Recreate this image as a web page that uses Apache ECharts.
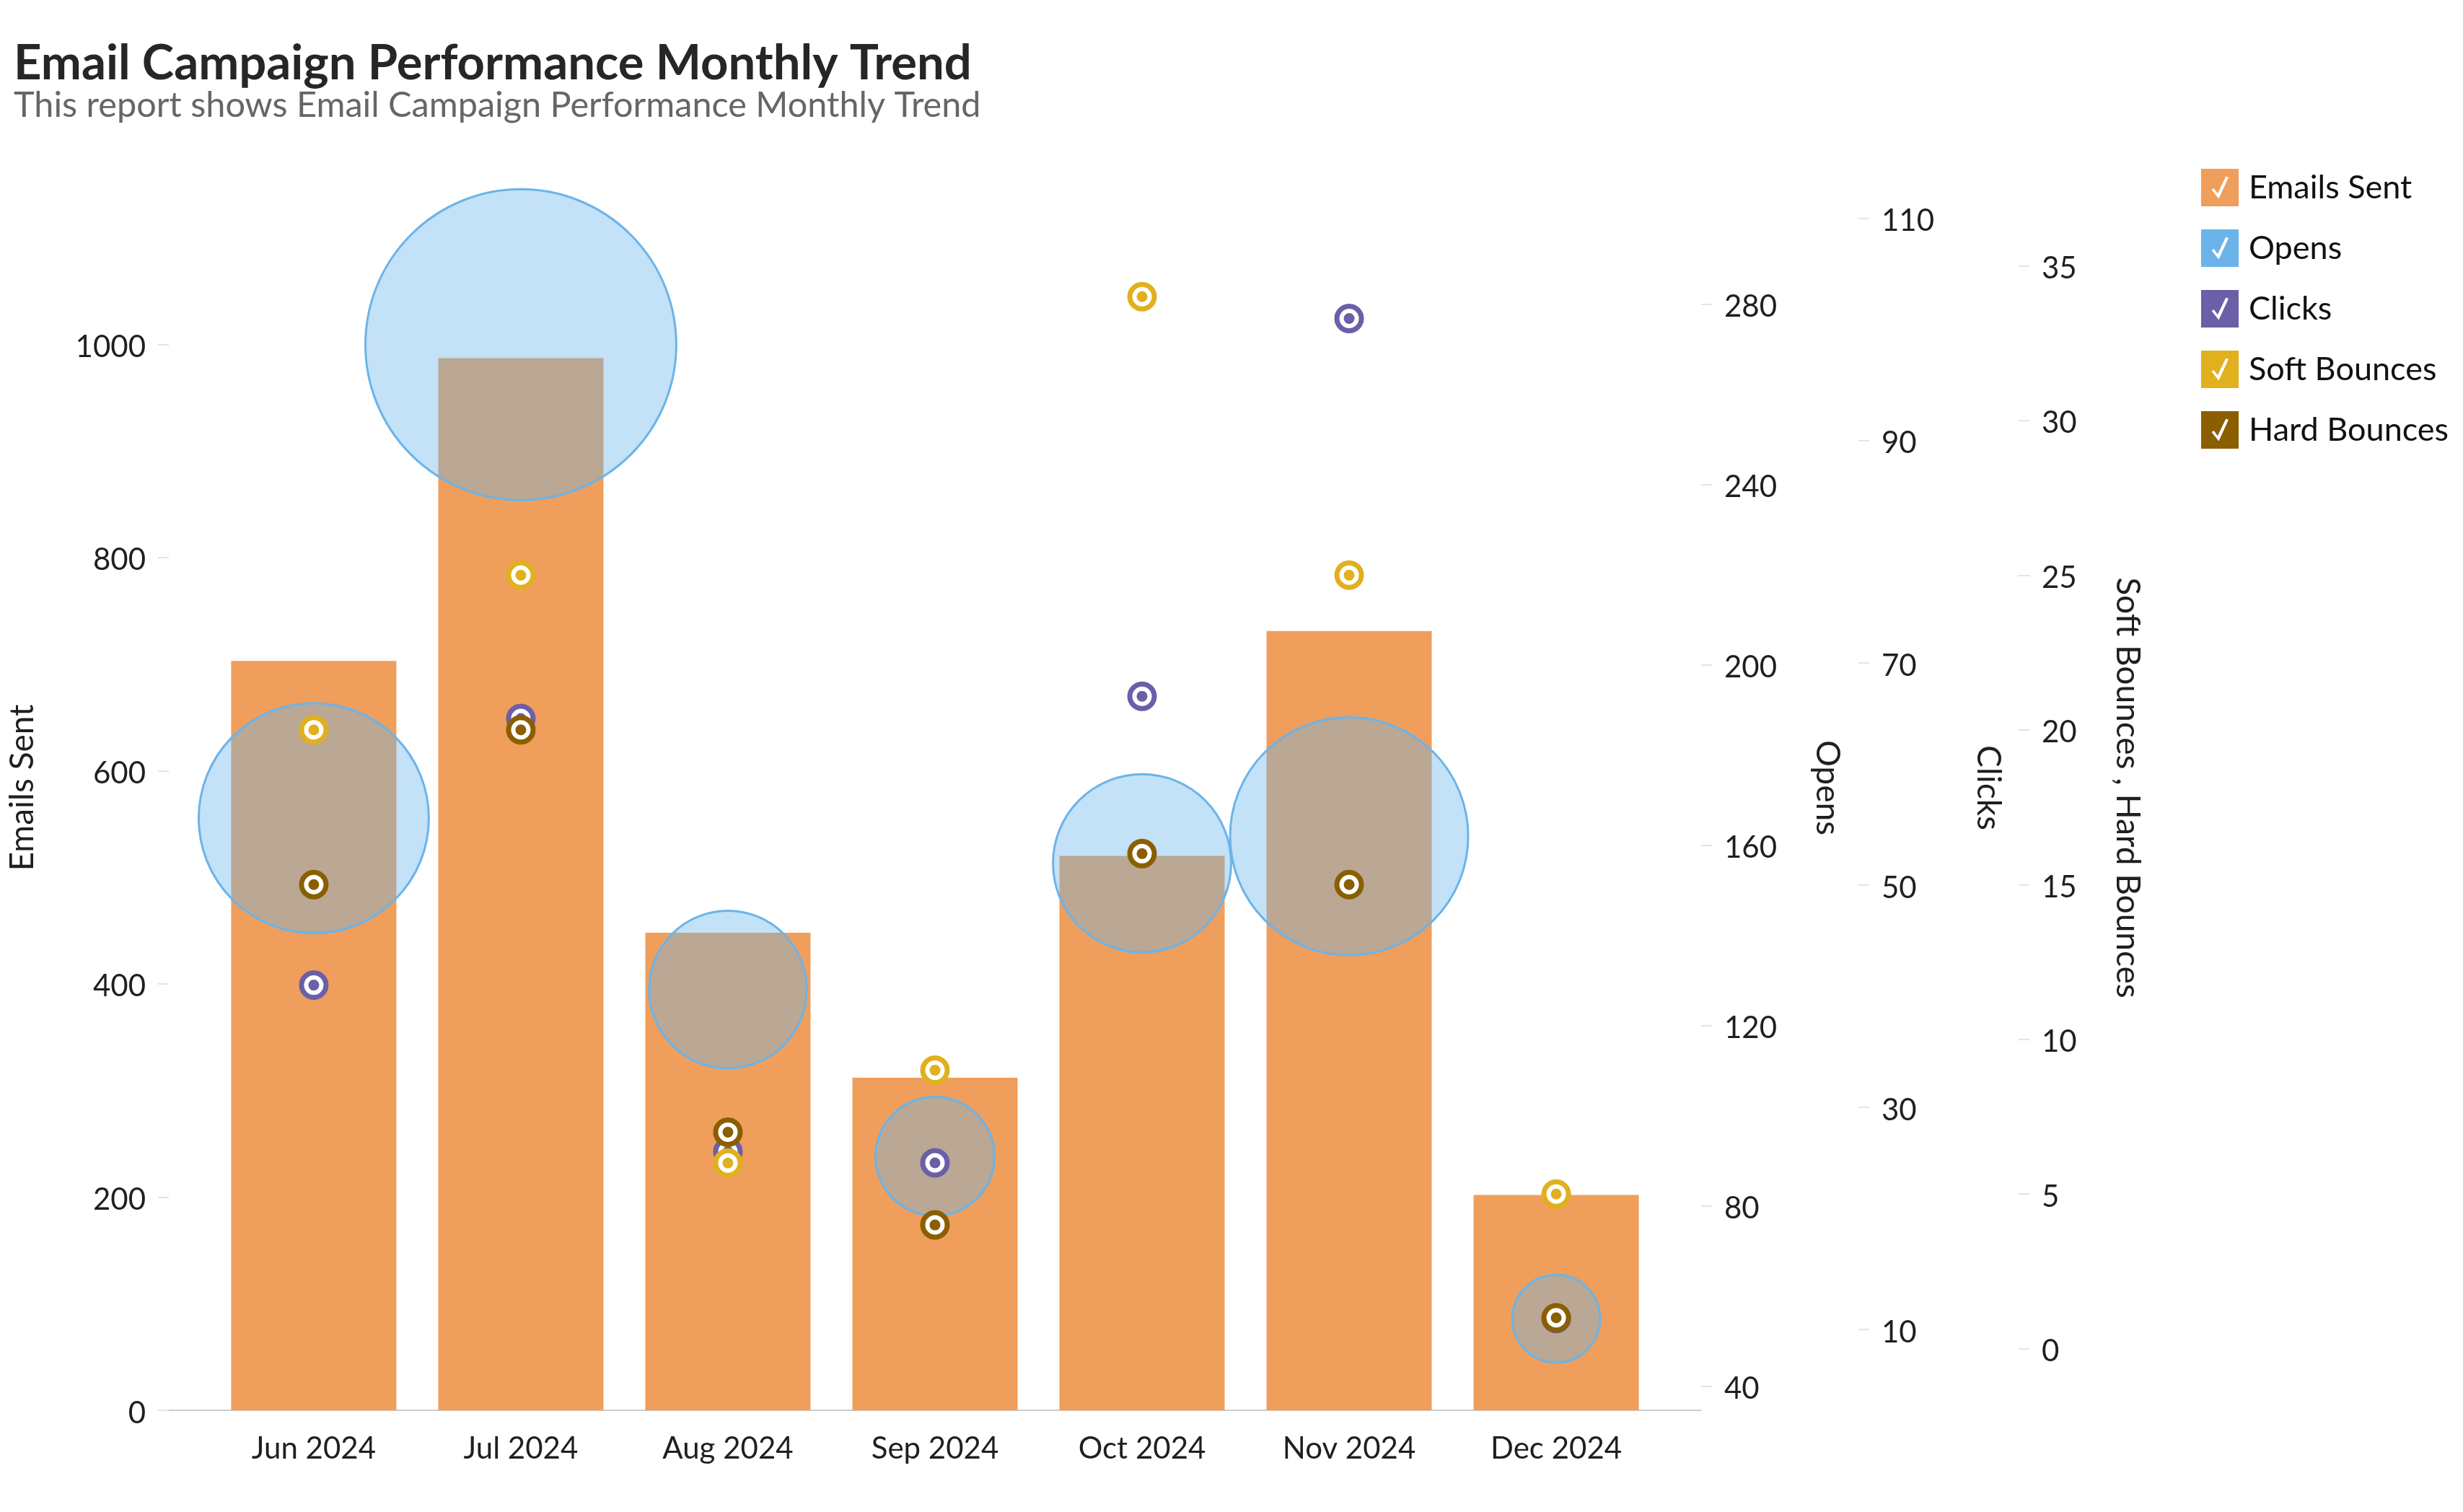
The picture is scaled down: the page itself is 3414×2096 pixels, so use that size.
<!DOCTYPE html>
<html>
<head>
<meta charset="utf-8">
<script src="https://cdn.jsdelivr.net/npm/echarts@6/dist/echarts.min.js"></script>
<style>
  html, body { margin: 0; padding: 0; background: #ffffff; }
  #chart { width: 3414px; height: 2096px; }
</style>
</head>
<body>
<div id="chart"></div>
<script>
// ---- data ----
const categories = ['Jun 2024', 'Jul 2024', 'Aug 2024', 'Sep 2024', 'Oct 2024', 'Nov 2024', 'Dec 2024'];
const emailsSent = [703, 987, 448, 312, 520, 731, 202];
const opens = [166, 271, 128, 91, 156, 162, 55];
const clicks = [41, 65, 26, 25, 67, 101, 11];
const softBounces = [20, 25, 6, 9, 34, 25, 5];
const hardBounces = [15, 20, 7, 4, 16, 15, 1];

const emailsTicks = [0, 200, 400, 600, 800, 1000];
const opensTicks = [40, 80, 120, 160, 200, 240, 280];
const clicksTicks = [10, 30, 50, 70, 90, 110];
const bounceTicks = [0, 5, 10, 15, 20, 25, 30, 35];

// ---- styles ----
const FONT = 'Lato';
const C_EMAILS = '#f09e5b';
const C_OPENS = '#6ab4ea';
const C_CLICKS = '#6b5fa8';
const C_SOFT = '#e0b01e';
const C_HARD = '#8b5e00';

const pairs = arr => arr.map((v, i) => [i, v]);

const CHECK_ICON = 'path://M0,0L100,0L100,100L0,100Z M28,56L47,80L73,23L66,20L44,66L34,52Z';

const labelStyle = { fontFamily: FONT, fontSize: 42, color: '#1f1f1f' };
const nameStyle = { fontFamily: FONT, fontSize: 46, color: '#1f1f1f' };
const tickStyle = { show: true, length: 15, lineStyle: { color: '#e4e4e4', width: 2 } };

function yAxis(opt) {
  return Object.assign({
    type: 'value',
    nameLocation: 'middle',
    nameTextStyle: nameStyle,
    axisLine: { show: false, onZero: false },
    splitLine: { show: false },
    axisTick: Object.assign({}, tickStyle, { customValues: opt.ticks }),
    axisLabel: Object.assign({}, labelStyle, {
      customValues: opt.ticks, margin: 32,
      formatter: v => String(v),
      verticalAlign: 'top',
      lineHeight: 8
    })
  }, opt.extra);
}

function markerSeries(name, values, color, axisIndex, z) {
  return [
    {
      name: name, type: 'scatter', xAxisIndex: 0, yAxisIndex: axisIndex,
      data: pairs(values), symbol: 'circle', symbolSize: 34, clip: false, z: z,
      itemStyle: { color: '#ffffff', borderColor: color, borderWidth: 7, opacity: 1 }
    },
    {
      name: name, type: 'scatter', xAxisIndex: 0, yAxisIndex: axisIndex,
      data: pairs(values), symbol: 'circle', symbolSize: 15, clip: false, z: z + 1,
      itemStyle: { color: color, opacity: 1 }
    }
  ];
}

const option = {
  animation: false,
  backgroundColor: '#ffffff',
  title: {
    text: 'Email Campaign Performance Monthly Trend',
    subtext: 'This report shows Email Campaign Performance Monthly Trend',
    left: 14, top: 50, itemGap: 0,
    textStyle: { fontFamily: FONT, fontSize: 67, fontWeight: 'bold', color: '#262626' },
    subtextStyle: { fontFamily: FONT, fontSize: 48.6, color: '#666666' }
  },
  legend: {
    orient: 'vertical',
    left: 3046, top: 229,
    itemWidth: 52, itemHeight: 52, itemGap: 32,
    icon: CHECK_ICON,
    textStyle: { fontFamily: FONT, fontSize: 45, color: '#111111', padding: [0, 0, 0, 9] },
    data: [
      { name: 'Emails Sent', itemStyle: { color: C_EMAILS, borderWidth: 0 } },
      { name: 'Opens', itemStyle: { color: C_OPENS, borderWidth: 0, opacity: 1 } },
      { name: 'Clicks', itemStyle: { color: C_CLICKS, borderWidth: 0 } },
      { name: 'Soft Bounces', itemStyle: { color: C_SOFT, borderWidth: 0 } },
      { name: 'Hard Bounces', itemStyle: { color: C_HARD, borderWidth: 0 } }
    ]
  },
  grid: { left: 234, right: 1056, top: 229, bottom: 141 },
  xAxis: {
    type: 'value', min: -0.7, max: 6.7,
    axisLine: { show: true, onZero: false, lineStyle: { color: '#cccccc', width: 2 } },
    axisTick: { show: false },
    splitLine: { show: false },
    axisLabel: Object.assign({}, labelStyle, {
      customValues: categories.map((c, i) => i),
      formatter: v => categories[Math.round(v)] || '',
      margin: 32
    })
  },
  yAxis: [
    yAxis({ ticks: emailsTicks, extra: { name: 'Emails Sent', position: 'left', min: 0, max: 1168, nameGap: 180 } }),
    yAxis({ ticks: opensTicks, extra: { name: 'Opens', position: 'right', offset: 0, min: 34.7, max: 310.8, nameGap: 152, nameRotate: -90 } }),
    yAxis({ ticks: clicksTicks, extra: { name: 'Clicks', position: 'right', offset: 218, min: 2.73, max: 114.8, nameGap: 157, nameRotate: -90 } }),
    yAxis({ ticks: bounceTicks, extra: { name: 'Soft Bounces , Hard Bounces', position: 'right', offset: 440, min: -1.99, max: 38.25, nameGap: 128, nameRotate: -90 } })
  ],
  series: [
    {
      name: 'Emails Sent', type: 'bar', xAxisIndex: 0, yAxisIndex: 0,
      data: pairs(emailsSent), barWidth: 229, z: 1,
      itemStyle: { color: C_EMAILS }
    },
    {
      name: 'Opens', type: 'scatter', xAxisIndex: 0, yAxisIndex: 1,
      data: pairs(opens), symbol: 'circle', clip: false, z: 2,
      symbolSize: (val, params) => 42 + 0.394 * emailsSent[params.dataIndex],
      itemStyle: { color: 'rgba(106,180,234,0.4)', borderColor: C_OPENS, borderWidth: 3, opacity: 1 }
    }
  ].concat(
    markerSeries('Clicks', clicks, C_CLICKS, 2, 4),
    markerSeries('Soft Bounces', softBounces, C_SOFT, 3, 6),
    markerSeries('Hard Bounces', hardBounces, C_HARD, 3, 8)
  )
};

const chart = echarts.init(document.getElementById('chart'));
chart.setOption(option);
</script>
</body>
</html>
